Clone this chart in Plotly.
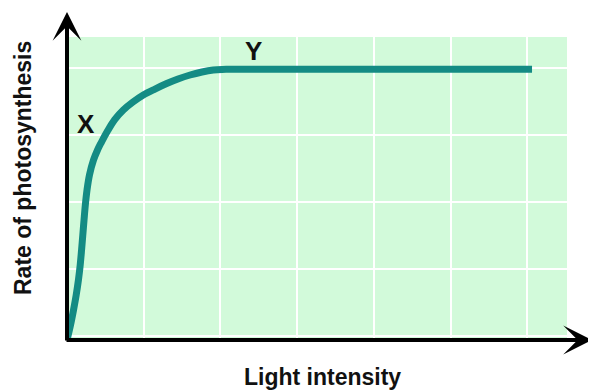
import plotly.graph_objects as go

# Light-response curve (x in grid units of light intensity, y in grid units of rate)
light_intensity = [0.000, 0.046, 0.085, 0.120, 0.149, 0.172, 0.190, 0.206, 0.222, 0.239,
                   0.261, 0.293, 0.346, 0.398, 0.443, 0.528, 0.622, 0.734, 0.860, 0.995,
                   1.147, 1.300, 1.447, 1.604, 1.760, 1.907, 2.021, 2.125, 6.063]
photosynthesis_rate = [0.000, 0.224, 0.448, 0.672, 0.896, 1.119, 1.343, 1.567, 1.791, 2.015,
                       2.239, 2.463, 2.687, 2.836, 2.940, 3.119, 3.290, 3.433, 3.552, 3.657,
                       3.746, 3.828, 3.896, 3.955, 4.000, 4.030, 4.039, 4.040, 4.040]

point_labels = ["X", "Y"]
label_x = [0.254, 2.438]
label_y = [3.224, 4.313]

x_title = "Light intensity"
y_title = "Rate of photosynthesis"

FONT = "Liberation Sans, Arial, sans-serif"
OFF = 8  # page body margin
W, H = 596 - OFF, 391 - OFF
L, R, T, B = 67 - OFF, 29, 37 - OFF, 51

fig = go.Figure()
fig.add_trace(go.Scatter(
    x=light_intensity, y=photosynthesis_rate, mode="lines",
    line=dict(color="#148b84", width=7, shape="spline", smoothing=1.0),
    hoverinfo="skip", showlegend=False,
))

annotations = []
for t, xv, yv in zip(point_labels, label_x, label_y):
    annotations.append(dict(x=xv, y=yv, xref="x", yref="y", text=f"<b>{t}</b>",
                            showarrow=False, font=dict(family=FONT, size=26, color="#111111")))

plot_w = W - L - R
plot_h = H - T - B
# axis arrows
annotations.append(dict(x=0, y=(plot_h + 25) / plot_h, xref="paper", yref="paper",
                        ax=0, ay=plot_h + 27, axref="pixel", ayref="pixel",
                        text="", showarrow=True, arrowhead=3, arrowsize=1.2,
                        arrowwidth=4, arrowcolor="#000000", standoff=0))
annotations.append(dict(x=(592 - 67) / plot_w, y=0, xref="paper", yref="paper",
                        ax=-(592 - 67 + 2), ay=0, axref="pixel", ayref="pixel",
                        text="", showarrow=True, arrowhead=3, arrowsize=1.2,
                        arrowwidth=4, arrowcolor="#000000", standoff=0))
# axis titles
annotations.append(dict(x=(23 - 67) / plot_w, y=(340 - 168) / plot_h, xref="paper", yref="paper",
                        xanchor="center", yanchor="middle",
                        text=f"<b>{y_title}</b>", textangle=-90, showarrow=False,
                        font=dict(family=FONT, size=23, color="#111111")))
annotations.append(dict(x=(322 - 67) / plot_w, y=(340 - 377) / plot_h, xref="paper", yref="paper",
                        xanchor="center", yanchor="middle",
                        text=f"<b>{x_title}</b>", showarrow=False,
                        font=dict(family=FONT, size=23, color="#111111")))

fig.update_layout(
    width=W, height=H,
    margin=dict(l=L, r=R, t=T, b=B, pad=0),
    paper_bgcolor="white", plot_bgcolor="#d2fada",
    annotations=annotations,
    xaxis=dict(range=[0, plot_w / 76.7], dtick=1, tick0=0, showgrid=True,
               gridcolor="white", gridwidth=2, zeroline=False, showticklabels=False,
               ticks="", showline=False, fixedrange=True),
    yaxis=dict(range=[0, plot_h / 67.0], dtick=1, tick0=0.06, showgrid=True,
               gridcolor="white", gridwidth=2, zeroline=False, showticklabels=False,
               ticks="", showline=False, fixedrange=True),
)

fig.write_html("out.html")
